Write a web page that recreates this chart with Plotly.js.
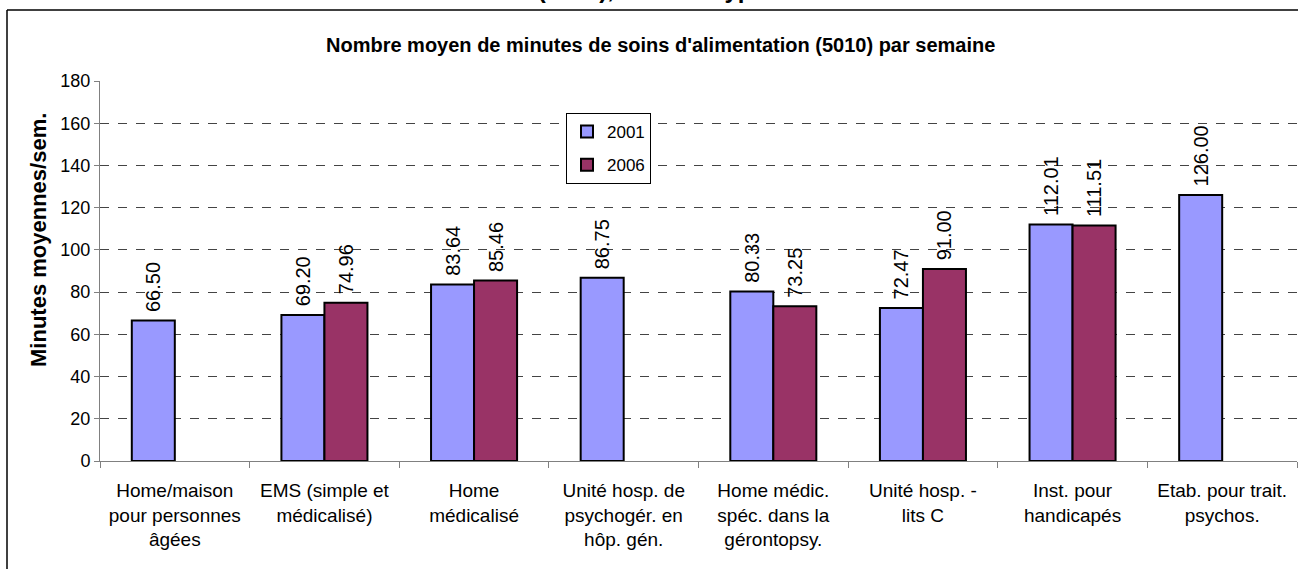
<!DOCTYPE html>
<html>
<head>
<meta charset="utf-8">
<script src="https://cdn.plot.ly/plotly-3.0.1.min.js"></script>
<style>
  html, body { margin: 0; padding: 0; background: #fff; overflow: hidden; }
  #chart { width: 1298px; height: 569px; }
</style>
</head>
<body>
<div id="chart"></div>
<script>
const categories = [
  "Home/maison<br>pour personnes<br>âgées",
  "EMS (simple et<br>médicalisé)",
  "Home<br>médicalisé",
  "Unité hosp. de<br>psychogér. en<br>hôp. gén.",
  "Home médic.<br>spéc. dans la<br>gérontopsy.",
  "Unité hosp. -<br>lits C",
  "Inst. pour<br>handicapés",
  "Etab. pour trait.<br>psychos."
];
const values2001 = [66.50, 69.20, 83.64, 86.75, 80.33, 72.47, 112.01, 126.00];
const values2006 = [null, 74.96, 85.46, null, 73.25, 91.00, 111.51, null];
const seriesNames = ["2001", "2006"];
const yTicks = [0, 20, 40, 60, 80, 100, 120, 140, 160, 180];

const chartTitle = "Nombre moyen de minutes de soins d'alimentation (5010) par semaine";
const topCutTitle = "Minutes de soins d'alimentation (5010), selon le type d'établissement";
const yTitle = "Minutes moyennes/sem.";

const FONT = "Liberation Sans, Arial, sans-serif";

function barTrace(name, vals, color, group) {
  return {
    type: "bar",
    name: name,
    x: categories,
    y: vals,
    legendgroup: group,
    marker: { color: color, line: { color: "#000", width: 2 } },
    texttemplate: "\u00a0%{y:.2f}",
    textposition: "outside",
    textangle: -90,
    constraintext: "none",
    cliponaxis: false,
    textfont: { family: FONT, size: 20, color: "#000" },
    hoverinfo: "x+y"
  };
}

const data = [
  barTrace(seriesNames[0], values2001, "#9999FF", "g1"),
  barTrace(seriesNames[1], values2006, "#993366", "g2")
];

const L = 100, R = 1, T = 81, B = 108;
const W = 1298, H = 569;
const pw = W - L - R, ph = H - T - B;
const px = v => (v - L) / pw;
const py = v => (H - B - v) / ph;

const layout = {
  width: W, height: H,
  margin: { l: L, r: R, t: T, b: B, pad: 0 },
  paper_bgcolor: "#fff",
  plot_bgcolor: "#fff",
  font: { family: FONT, size: 18, color: "#000" },
  barmode: "group",
  bargap: 0.425,
  bargroupgap: 0,
  showlegend: true,
  legend: {
    x: px(566), y: py(113), xanchor: "left", yanchor: "top",
    bordercolor: "#000", borderwidth: 1, bgcolor: "#fff",
    font: { family: FONT, size: 17, color: "#000" },
    traceorder: "grouped", tracegroupgap: 8,
    itemwidth: 30
  },
  xaxis: {
    type: "category",
    showgrid: false,
    showline: true, linecolor: "#808080", linewidth: 1,
    ticks: "outside", ticklen: 6, tickcolor: "#808080",
    tickson: "boundaries",
    ticklabelstandoff: 12,
    tickfont: { family: FONT, size: 19, color: "#000" },
    zeroline: false
  },
  yaxis: {
    range: [0, 180],
    tickvals: yTicks,
    ticktext: yTicks.map(String),
    showgrid: true, gridcolor: "#444", griddash: "dash", gridwidth: 1,
    showline: true, linecolor: "#808080", linewidth: 1,
    ticks: "outside", ticklen: 5, tickcolor: "#808080",
    tickfont: { family: FONT, size: 18, color: "#000" },
    zeroline: false
  },
  annotations: [
    {
      text: "<b>" + chartTitle + "</b>",
      xref: "paper", yref: "paper",
      x: px(660), y: py(45), xanchor: "center", yanchor: "middle",
      showarrow: false,
      font: { family: FONT, size: 20, color: "#000" }
    },
    {
      text: "<b>" + yTitle + "</b>",
      xref: "paper", yref: "paper",
      x: px(38), y: py(240), xanchor: "center", yanchor: "middle",
      textangle: -90, showarrow: false,
      font: { family: FONT, size: 22, color: "#000" }
    },
    {
      text: "<b>" + topCutTitle + "</b>",
      xref: "paper", yref: "paper",
      x: px(560), y: py(-1), xanchor: "center", yanchor: "bottom",
      yshift: -6,
      showarrow: false,
      font: { family: FONT, size: 24, color: "#000" }
    }
  ],
  shapes: [
    {
      type: "line", xref: "paper", yref: "paper",
      x0: px(7), x1: px(7), y0: py(575), y1: py(10),
      line: { color: "#000", width: 1.5 },
      layer: "below"
    },
    {
      type: "line", xref: "paper", yref: "paper",
      x0: px(7), x1: px(1298), y0: py(10), y1: py(10),
      line: { color: "#000", width: 1.5 },
      layer: "below"
    }
  ]
};

Plotly.newPlot("chart", data, layout, { displayModeBar: false, staticPlot: true });
</script>
</body>
</html>
